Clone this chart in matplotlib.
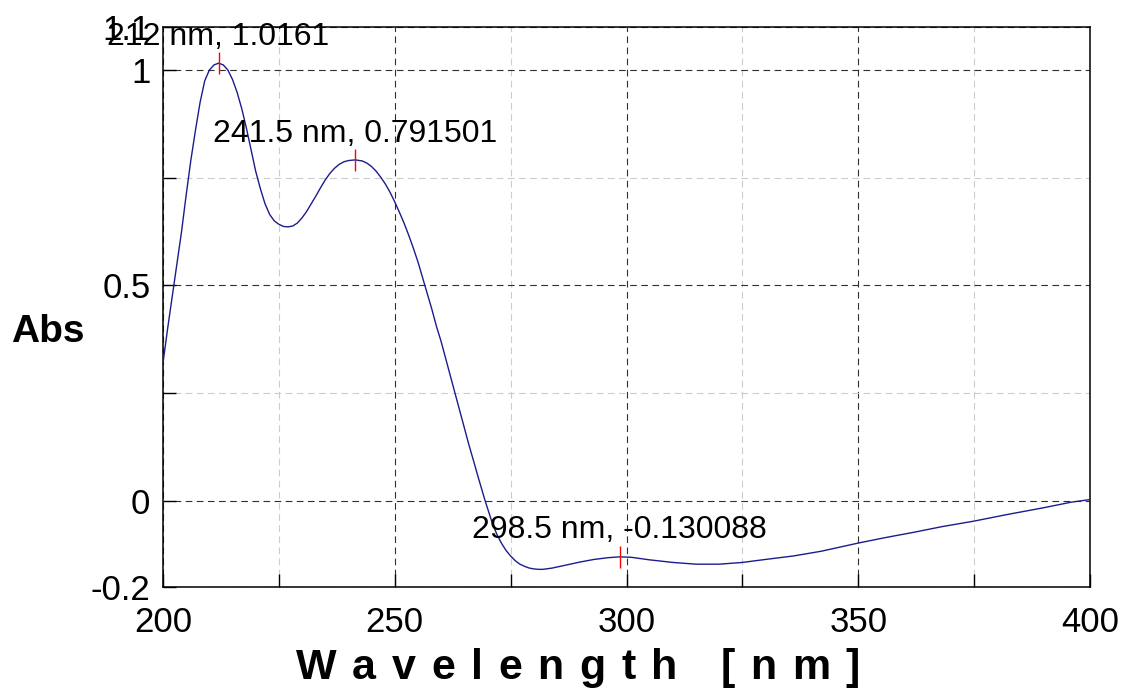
import matplotlib
matplotlib.use("Agg")
import matplotlib.pyplot as plt
from matplotlib.ticker import FixedLocator

plt.rcParams['font.family'] = ['Liberation Sans', 'DejaVu Sans']

# spectrum
wavelength = [200, 201, 202, 203, 204, 205, 206, 207, 208, 209, 210, 211,
              212, 213, 214, 215, 216, 217, 218, 219, 220, 221, 222, 223,
              224, 225, 226, 227, 228, 229, 230, 231, 232, 233, 234, 235,
              236, 237, 238, 239, 240, 241.5, 243, 244, 245, 246, 247, 248,
              249, 250, 251, 252, 253, 254, 255, 256.5, 258, 259, 260, 261,
              262, 263, 264, 265, 266, 267, 268, 269.5, 271, 272, 273, 274,
              275, 276, 277, 278, 279, 280, 281, 282, 284, 287, 290, 293,
              296, 298.5, 301, 305, 310, 315, 320, 325, 330, 336, 342, 350,
              356, 362, 368, 375, 382, 390, 396, 400]
absorbance = [0.32, 0.40, 0.475, 0.55, 0.625, 0.71, 0.79, 0.86, 0.925, 0.975, 1.000, 1.012,
              1.016, 1.012, 1.000, 0.978, 0.948, 0.910, 0.865, 0.815, 0.765, 0.725, 0.690, 0.665,
              0.650, 0.642, 0.637, 0.636, 0.638, 0.645, 0.657, 0.672, 0.690, 0.708, 0.727, 0.745,
              0.760, 0.772, 0.781, 0.787, 0.790, 0.7915, 0.789, 0.784, 0.776, 0.765, 0.751, 0.735,
              0.716, 0.694, 0.670, 0.645, 0.617, 0.587, 0.555, 0.500, 0.445, 0.405, 0.370, 0.330,
              0.290, 0.250, 0.210, 0.170, 0.130, 0.093, 0.055, 0.000, -0.050, -0.077, -0.098, -0.115,
              -0.128, -0.139, -0.147, -0.152, -0.156, -0.158, -0.159, -0.159, -0.156, -0.149, -0.142, -0.136,
              -0.132, -0.130, -0.131, -0.137, -0.143, -0.147, -0.147, -0.143, -0.136, -0.128, -0.117, -0.098,
              -0.085, -0.073, -0.060, -0.047, -0.032, -0.016, -0.003, 0.003]

peak_x = [212, 241.5, 298.5]
peak_y = [1.0161, 0.791501, -0.130088]
peak_text = ['212 nm, 1.0161', '241.5 nm, 0.791501', '298.5 nm, -0.130088']

x_label = 'Wavelength [nm]'
# advance widths (em) of Arial/Liberation Sans Bold, for the spaced-out label
bold_adv = {'W': .944, 'a': .556, 'v': .556, 'e': .556, 'l': .278, 'n': .611,
            'g': .611, 't': .333, 'h': .611, ' ': .278, '[': .333, 'm': .889, ']': .333}

fig = plt.figure(figsize=(11.26, 6.93), dpi=100)
ax = fig.add_axes([0.14476, 0.15296, 0.82327, 0.80808])

ax.plot(wavelength, absorbance, color='#1c1c8c', lw=1.0, zorder=3)

for px, py, t in zip(peak_x, peak_y, peak_text):
    ax.plot([px], [py], marker='|', color='red', markersize=16.5, mew=1.0, zorder=4)
    ax.annotate(t, (px, py), xytext=(0, 19), textcoords='offset points',
                ha='center', va='center', fontsize=23, zorder=5)

ax.set_xlim(200, 400)
ax.set_ylim(-0.2, 1.1)
ax.xaxis.set_major_locator(FixedLocator([200, 250, 300, 350, 400]))
ax.xaxis.set_minor_locator(FixedLocator([225, 275, 325, 375]))
ax.yaxis.set_major_locator(FixedLocator([-0.2, 0, 0.5, 1, 1.1]))
ax.yaxis.set_minor_locator(FixedLocator([0.25, 0.75]))
ax.set_yticklabels(['-0.2', '0', '0.5', '1', '1.1'])

ax.grid(which='major', color='#303030', linestyle=(0, (6, 4)), lw=0.8)
ax.grid(which='minor', color='#cccccc', linestyle=(0, (6, 4)), lw=0.8)
ax.tick_params(which='both', direction='in', length=9.5, width=1.0,
               top=False, right=False, labelsize=25)
ax.tick_params(axis='x', pad=14)
ax.tick_params(axis='y', pad=9)
for s in ax.spines.values():
    s.set_linewidth(1.1)

fig.text(0.0426, 0.521, 'Abs', fontsize=28, fontweight='bold', ha='center', va='center')

# x label drawn letter by letter to get the wide spacing
fs = 31
em = fs * 100 / 72
left, right = 296, 860
natural = sum(bold_adv[c] for c in x_label) * em
gap = (right - left - natural) / (len(x_label) - 1)
xp = left
for c in x_label:
    fig.text(xp / 1126, 14 / 693, c, fontsize=fs, fontweight='bold', ha='left', va='baseline')
    xp += bold_adv[c] * em + gap

fig.savefig('out.png', dpi=100)
